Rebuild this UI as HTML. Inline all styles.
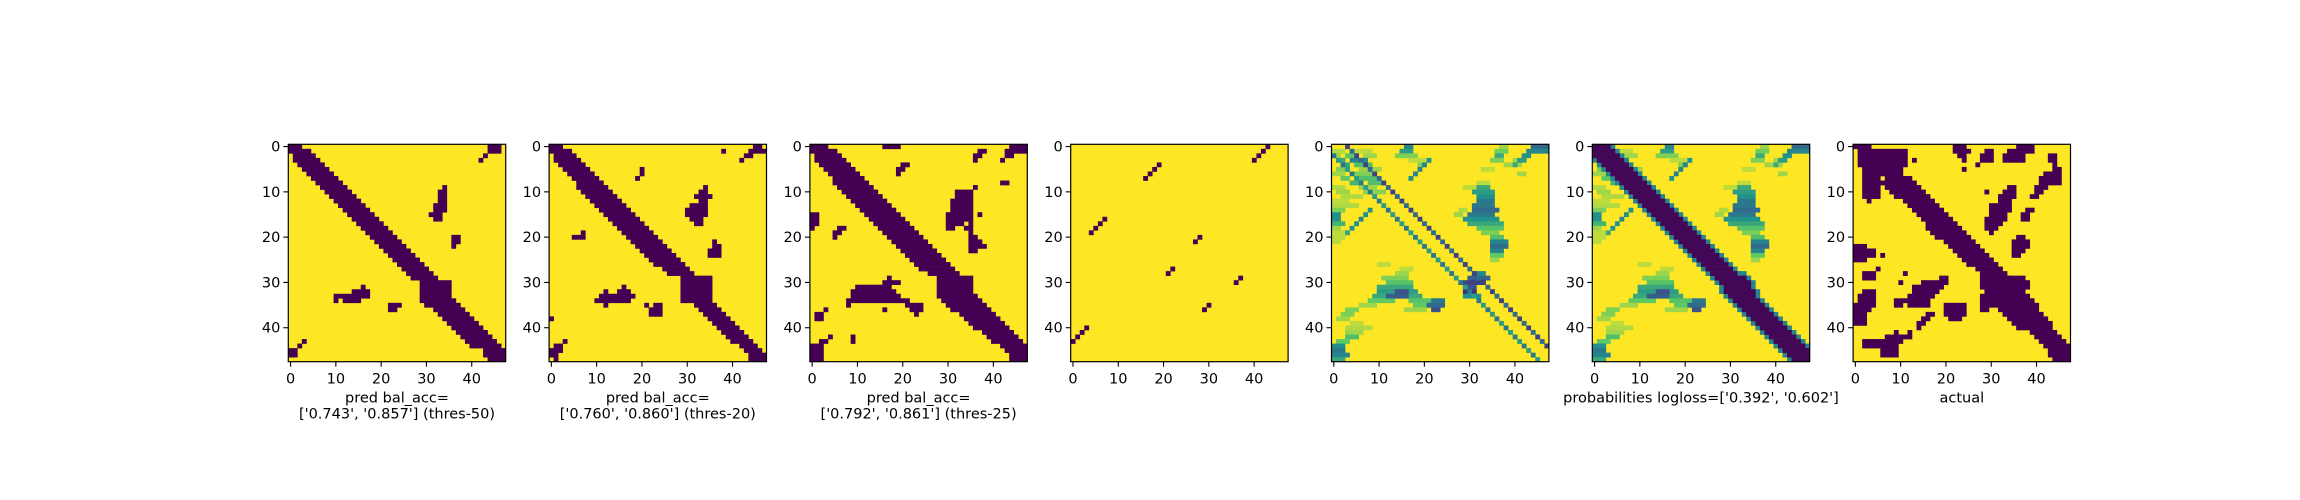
<!DOCTYPE html>
<html><head><meta charset="utf-8"><style>
html,body{margin:0;padding:0;background:#fff;}
svg{display:block;font-family:"DejaVu Sans","Liberation Sans",sans-serif;}
</style></head><body>
<svg id="fig" width="2300" height="500" viewBox="0 0 2300 500" xmlns="http://www.w3.org/2000/svg"></svg>
<script>
// ---- data ----
const N = 48;
const tickLabels = [0,10,20,30,40];
const titles = [
 ["pred bal_acc=","['0.743', '0.857'] (thres-50)"],
 ["pred bal_acc=","['0.760', '0.860'] (thres-20)"],
 ["pred bal_acc=","['0.792', '0.861'] (thres-25)"],
 [],
 [],
 ["probabilities logloss=['0.392', '0.602']"],
 ["actual"]
];
const bandLo1 = [0,0,1,1,2,3,4,5,6,7,8,9,10,11,12,13,14,15,16,17,18,19,20,21,22,23,24,25,26,27,29,29,29,29,29,30,32,33,34,35,36,37,38,39,40,43,43,44];
const bandHi1 = [2,4,5,6,7,8,9,10,11,12,13,14,15,16,17,18,19,20,21,22,23,24,25,26,27,28,29,30,31,32,35,35,35,35,36,37,38,39,40,41,42,43,44,45,46,47,47,47];
const extra1 = [[0,44,46],[1,44,46],[2,43,43],[3,42,42],[9,34,34],[10,33,34],[11,33,34],[12,33,34],[13,32,34],[14,32,34],[15,31,33],[16,32,33],[20,36,37],[21,36,37],[22,36,36],[31,16,16],[32,14,17],[33,10,17],[34,10,10],[34,12,15],[35,22,24],[36,22,23],[43,3,3],[44,2,2],[45,0,1],[46,0,1]];
const bandLo2 = [0,0,1,1,2,3,4,5,6,6,7,8,9,10,11,12,13,14,15,16,17,18,19,20,21,22,23,25,26,29,29,29,29,29,29,32,33,34,35,36,37,38,39,40,42,43,44,44];
const bandHi2 = [2,4,5,6,7,8,9,10,11,12,13,14,15,16,17,18,19,20,21,22,23,24,25,26,27,28,29,30,31,35,35,35,35,35,35,36,37,38,39,40,41,42,43,44,45,46,47,47];
const extra2 = [[0,45,46],[1,44,47],[2,43,44],[3,42,42],[1,38,38],[5,20,20],[6,20,20],[7,19,19],[9,34,34],[10,33,34],[11,32,35],[12,33,34],[13,31,34],[14,30,34],[15,30,34],[16,31,33],[17,32,33],[19,7,7],[20,5,7],[21,36,36],[22,36,37],[23,35,37],[24,35,37],[31,16,16],[32,12,12],[32,15,17],[33,11,18],[34,10,17],[35,12,12],[35,21,21],[35,23,24],[36,22,24],[37,22,24],[38,0,0],[43,3,3],[44,1,2],[45,0,2],[46,0,1],[47,1,1]];
const bandLo3 = [0,0,1,1,2,3,4,5,5,6,7,8,9,10,11,12,13,14,15,16,17,18,19,20,21,22,23,24,26,28,28,28,28,28,29,30,31,33,34,35,36,38,39,40,42,43,44,44];
const bandHi3 = [3,5,6,7,8,9,10,11,12,13,14,15,16,17,18,19,20,21,22,23,24,25,26,27,28,29,30,31,32,35,35,35,35,36,37,38,39,40,41,42,43,44,45,46,47,47,47,47];
const extra3 = [[0,16,19],[1,37,38],[2,36,37],[3,36,36],[0,44,47],[1,43,47],[2,43,44],[3,42,42],[4,20,21],[5,19,20],[6,19,19],[8,42,43],[9,36,36],[10,32,35],[11,32,35],[12,31,35],[13,31,35],[14,31,35],[15,30,35],[15,37,37],[16,30,35],[17,30,33],[17,35,35],[18,30,31],[18,34,35],[19,35,35],[15,0,1],[16,0,1],[17,0,1],[18,0,0],[18,6,7],[19,5,6],[20,5,5],[20,35,36],[21,35,37],[22,35,38],[23,35,36],[29,17,17],[30,16,19],[31,10,17],[32,9,18],[33,9,19],[34,8,21],[35,8,8],[35,21,24],[36,16,16],[36,22,24],[37,23,23],[36,3,3],[37,1,2],[38,1,2],[42,4,4],[42,9,9],[43,2,3],[43,9,9],[44,0,2],[45,0,2],[46,0,2],[47,0,2]];
const points4 = [[0,43],[1,42],[2,41],[3,40],[4,19],[5,18],[6,17],[7,16],[16,7],[17,6],[18,5],[19,4],[20,28],[21,27],[27,22],[28,21],[29,37],[30,36],[35,30],[36,29],[40,3],[41,2],[42,1],[43,0]];
const probBlobs = [[1,0,2,.88],[1,5,8,.9],[2,0,1,.85],[2,3,5,.75],[2,7,9,.85],[3,1,2,.6],[3,4,7,.45],[4,2,3,.6],[4,5,8,.7],[5,1,3,.8],[5,6,10,.85],[6,0,2,.85],[6,5,9,.8],[7,2,3,.75],[7,6,10,.7],[8,4,5,.65],[8,8,11,.7],[9,0,2,.88],[9,6,9,.85],[10,1,3,.85],[10,7,11,.82],[11,2,6,.88],[12,0,3,.9],[13,0,5,.88],[14,0,2,.8],[15,0,1,.5],[16,0,1,.5],[17,0,2,.65],[18,0,1,.85],[19,0,3,.9],[20,0,2,.9],[21,0,1,.9],
[0,16,17,.45],[1,15,17,.55],[2,14,18,.8],[3,17,21,.9],[4,19,20,.8],
[14,8,8,.5],[15,7,7,.5],[16,6,6,.45],[17,5,5,.5],[18,4,4,.5],[19,3,3,.6],[4,20,20,.45],[5,19,19,.45],[6,18,18,.45],[7,17,17,.5],[3,21,21,.5],
[0,37,38,.85],[1,36,38,.78],[2,36,37,.6],[3,35,37,.8],[3,40,41,.85],[4,38,41,.85],[5,33,35,.9],[6,41,42,.85],[8,32,34,.9],[9,29,31,.9],[0,44,47,.35],[1,43,47,.45],[2,42,43,.5],[3,41,42,.55],[4,40,40,.6],
[9,32,34,.6],[10,31,35,.55],[11,32,35,.5],[12,32,35,.4],[13,31,35,.4],[14,31,36,.35],[15,30,35,.4],[16,29,36,.5],[17,30,37,.6],[18,32,37,.72],[19,33,36,.8],[20,35,37,.7],[21,35,38,.45],[22,35,38,.35],[23,35,37,.45],[24,35,37,.75],[25,35,36,.85],[14,28,29,.88],[15,27,28,.85],
[26,10,12,.9],[27,15,17,.9],[28,14,16,.85],[29,11,16,.8],[30,12,17,.72],[31,10,17,.6],[32,10,18,.55],[33,9,19,.6],[34,8,13,.75],[34,17,22,.72],[35,6,9,.85],[35,18,24,.75],[36,3,5,.8],[36,16,20,.85],[37,2,4,.8],[38,1,3,.85],[39,4,6,.9],[40,3,8,.88],[41,3,6,.85],[42,3,5,.7],[43,1,3,.75],[44,0,2,.5],[45,0,2,.4],[46,0,3,.45],[47,0,2,.6],
[32,14,16,.25],[33,12,16,.3],[34,22,24,.4],[35,21,24,.35],[36,22,23,.25],
[28,31,33,.45],[29,30,34,.3],[30,29,33,.2],[31,29,31,.25],[32,29,31,.15],[33,29,32,.5]];
const lines5 = [[0,3,45],[2,0,46]];
const lineVals5 = [0.2,0.4];
const bandLo6 = [0,0,0,1,2,3,4,5,6,7,8,9,10,11,12,13,14,15,16,17,18,19,20,21,22,23,24,25,26,27,28,29,29,30,31,32,33,34,35,36,37,38,39,40,41,42,43,44];
const bandHi6 = [3,4,5,6,7,8,9,10,11,12,13,14,15,16,17,18,19,20,21,22,23,24,25,26,27,28,29,30,31,33,34,34,35,35,36,37,38,39,40,41,42,43,44,45,46,47,47,47];
const bandLo7 = [0,1,1,1,1,2,2,2,2,2,2,2,11,12,13,14,15,16,16,17,18,20,21,22,23,24,25,27,28,28,28,28,29,29,30,31,32,33,34,35,36,39,40,41,42,43,43,44];
const bandHi7 = [3,11,11,11,11,10,5,5,5,5,5,5,17,18,19,20,21,22,23,24,25,26,27,28,29,30,31,32,33,34,36,37,37,38,39,40,40,41,42,43,43,44,45,46,47,47,47,47];
const extra7 = [[6,6,10],[7,7,12],[8,6,13],[9,7,14],[10,8,15],[11,9,16],[0,22,24],[1,22,25],[2,23,24],[3,24,24],[5,24,24],[1,29,30],[2,28,30],[3,28,30],[4,27,27],[0,36,39],[1,34,39],[2,33,37],[3,33,37],[2,43,44],[3,43,44],[4,44,44],[5,44,45],[6,42,45],[7,41,45],[8,41,45],[9,40,42],[10,40,41],[11,39,40],[3,13,13],
[9,34,35],[10,33,35],[11,32,35],[12,32,34],[13,31,34],[14,30,34],[15,30,33],[16,29,33],[17,29,32],[18,29,31],[19,30,30],[10,29,29],[13,30,30],[14,38,39],[15,37,38],[16,37,38],[12,3,3],
[20,36,37],[21,35,38],[22,35,38],[23,35,37],[24,35,36],[22,0,2],[23,0,4],[24,0,4],[25,0,2],[24,6,6],[27,5,5],[28,2,4],[29,2,4],[28,11,11],[29,32,37],[30,32,38],[31,33,38],
[29,19,20],[30,15,20],[31,13,19],[32,13,18],[33,12,17],[34,9,16],[35,9,10],[35,12,16],[32,2,4],[33,1,4],[34,1,4],[35,0,4],[36,0,3],[37,0,2],[38,0,2],[39,0,2],
[33,28,30],[34,28,30],[35,28,30],[36,28,29],[35,20,24],[36,20,24],[37,20,24],[38,21,23],[37,16,17],[38,15,16],[39,14,15],[40,14,14],[41,9,9],[42,7,12],[43,2,10],[44,2,9],[45,6,9],[46,6,9],[41,12,12],[30,10,10]];

// ---- layout ----
const L0 = 288.3, DX = 260.8, TOP = 144.3, W = 217.4;
const cs = W / N;
const svg = document.getElementById('fig');
const NS = 'http://www.w3.org/2000/svg';
const stops = [[68,1,84],[59,82,139],[33,145,140],[94,201,98],[253,231,37]];
function viridis(v){ v=Math.max(0,Math.min(1,v)); const p=v*4, i=Math.min(3,Math.floor(p)), f=p-i;
  const a=stops[i], b=stops[i+1]; return 'rgb('+a.map((x,k)=>Math.round(x+(b[k]-x)*f)).join(',')+')'; }
function mk(tag, attrs, parent){ const e=document.createElementNS(NS,tag); for(const k in attrs) e.setAttribute(k,attrs[k]); parent.appendChild(e); return e; }
function xScale(p,c){ return L0 + p*DX + c*cs; }
function yScale(r){ return TOP + r*cs; }

function bandRuns(lo,hi,v){ return lo.map((l,r)=>[r,l,hi[r],v]); }
function runs0(list){ return list.map(a=>[a[0],a[1],a[2],0]); }

const panels = [
  bandRuns(bandLo1,bandHi1,0).concat(runs0(extra1)),
  bandRuns(bandLo2,bandHi2,0).concat(runs0(extra2)),
  bandRuns(bandLo3,bandHi3,0).concat(runs0(extra3)),
  points4.map(p=>[p[0],p[1],p[1],0]),
  (function(){ let out=probBlobs.slice(); lines5.forEach((ln,j)=>{ for(let k=0;k<ln[2];k++){ const r=ln[0]+k,c=ln[1]+k; if(r<N&&c<N) out.push([r,c,c,lineVals5[j]+(k%2)*0.15]); } }); return out; })(),
  (function(){ let out=probBlobs.slice(); bandLo6.forEach((l,r)=>{ if(l>0) out.push([r,l-1,l-1,0.45]); if(bandHi6[r]<N-1) out.push([r,bandHi6[r]+1,bandHi6[r]+1,0.45]); }); return out.concat(bandRuns(bandLo6,bandHi6,0.02)); })(),
  bandRuns(bandLo7,bandHi7,0).concat(runs0(extra7))
];

panels.forEach((runs,p)=>{
  const g = mk('g',{},svg);
  
  
  const bg = mk('rect',{x:xScale(p,0),y:yScale(0),width:W,height:W,fill:viridis(1)},g);
  
  
  runs.forEach(rn=>{
    const c = mk('rect',{x:xScale(p,rn[1]).toFixed(2),y:yScale(rn[0]).toFixed(2),width:((rn[2]-rn[1]+1)*cs+0.3).toFixed(2),height:(cs+0.3).toFixed(2),fill:viridis(rn[3])},g);
    
    
  });
  const fr = mk('rect',{x:xScale(p,0),y:yScale(0),width:W,height:W,fill:'none',stroke:'#000','stroke-width':1.2},g);
  
  
  tickLabels.forEach(t=>{
    const x = xScale(p,t+0.5), yb = yScale(N);
    mk('line',{x1:x,x2:x,y1:yb,y2:yb+5,stroke:'#000','stroke-width':1.1},g);
    const tx = mk('text',{x:x,y:yb+22,'font-size':14.5,'text-anchor':'middle',fill:'#000'},g);
    tx.textContent = t;
    
    
    const y = yScale(t+0.5), xl = xScale(p,0);
    mk('line',{x1:xl-5,x2:xl,y1:y,y2:y,stroke:'#000','stroke-width':1.1},g);
    const ty = mk('text',{x:xl-8,y:y+5,'font-size':14.5,'text-anchor':'end',fill:'#000'},g);
    ty.textContent = t;
    
    
  });
  titles[p].forEach((line,i)=>{
    const tt = mk('text',{x:xScale(p,N/2),y:yScale(N)+41+i*16,'font-size':14.5,'text-anchor':'middle',fill:'#000'},g);
    tt.textContent = line;
    
    
  });
});
</script>
</body></html>
